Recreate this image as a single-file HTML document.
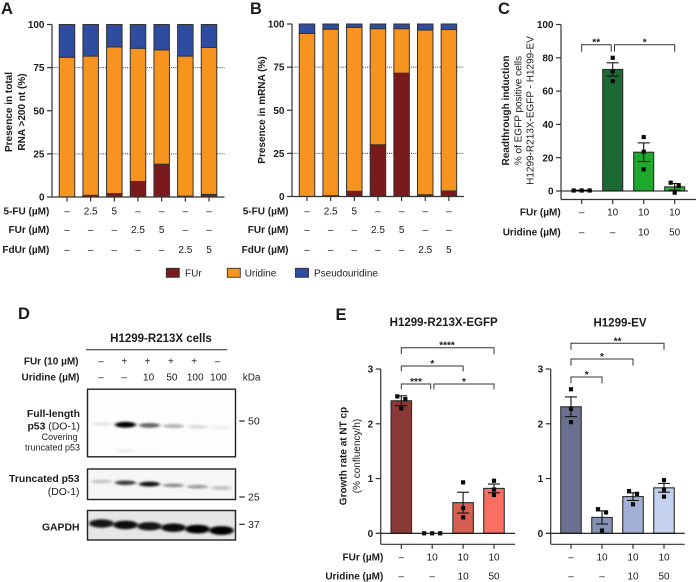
<!DOCTYPE html>
<html lang="en">
<head>
<meta charset="utf-8">
<title>Figure panels A-E</title>
<style>
html,body{margin:0;padding:0;background:#fff;}
svg{display:block;}
text{font-family:"Liberation Sans",sans-serif;fill:#1c1c1c;font-size:10px;}
.b{font-weight:bold;}
.letter{font-size:16.5px;font-weight:bold;}
</style>
</head>
<body>
<svg id="fig" xmlns="http://www.w3.org/2000/svg" width="696" height="582" viewBox="0 0 696 582">
  <defs>
    <filter id="blur1" x="-30%" y="-120%" width="160%" height="340%"><feGaussianBlur stdDeviation="1.5 1.1"/></filter>
  </defs>
  <rect width="696" height="582" fill="#fff"/>

  <text class="letter" x="1" y="14">A</text>
  <text class="letter" x="250" y="14">B</text>
  <text class="letter" x="498" y="14">C</text>
  <text class="letter" x="18" y="319">D</text>
  <text class="letter" x="335.5" y="320">E</text>

  <g id="panelA">
    <text class="b" transform="rotate(-90 11.8 112)" x="11.8" y="112" text-anchor="middle">Presence in total</text>
    <text class="b" transform="rotate(-90 25 112)" x="25" y="112" text-anchor="middle">RNA &gt;200 nt (%)</text>
  </g>
  <g id="panelB">
    <text class="b" transform="rotate(-90 265.2 110)" x="265.2" y="110" text-anchor="middle">Presence in mRNA (%)</text>
  </g>
  <g id="panelC">
    <text class="b" transform="rotate(-90 509.2 110.5)" x="509.2" y="110.5" text-anchor="middle">Readthrough induction</text>
    <text transform="rotate(-90 521.5 110.5)" x="521.5" y="110.5" text-anchor="middle">% of EGFP positive cells</text>
    <text transform="rotate(-90 533.5 110.5)" x="533.5" y="110.5" text-anchor="middle">H1299-R213X-EGFP - H1299-EV</text>
  </g>

  <g>
    <rect x="166.3" y="268.3" width="13" height="9" fill="#7a1a1c" stroke="#333" stroke-width="0.9"/>
    <text x="185" y="276.3">FUr</text>
    <rect x="227.3" y="268.3" width="13" height="9" fill="#f7941f" stroke="#333" stroke-width="0.9"/>
    <text x="244.7" y="276.3">Uridine</text>
    <rect x="295.5" y="268.3" width="13" height="9" fill="#2f4da0" stroke="#333" stroke-width="0.9"/>
    <text x="314" y="276.3">Pseudouridine</text>
  </g>

  <g id="panelD">
    <text class="b" x="161" y="342" text-anchor="middle" style="font-size:11.5px">H1299-R213X cells</text>
    <line x1="86" y1="349.7" x2="227.3" y2="349.7" stroke="#222" stroke-width="1"/>
    <text class="b" x="78.5" y="364.5" text-anchor="end">FUr (10 µM)</text>
    <text class="b" x="79.5" y="380.5" text-anchor="end">Uridine (µM)</text>
    <text x="242.7" y="380.5">kDa</text>
    <text x="80" y="417" text-anchor="end" class="b" style="font-size:10.4px">Full-length</text>
    <text x="80" y="429.5" text-anchor="end" style="font-size:10.4px"><tspan class="b" style="font-size:10.4px">p53</tspan> (DO-1)</text>
    <text x="77.7" y="440" text-anchor="end" style="font-size:9px">Covering</text>
    <text x="80" y="450.7" text-anchor="end" style="font-size:9px">truncated p53</text>
    <text x="79.5" y="482" text-anchor="end" class="b" style="font-size:10.4px">Truncated p53</text>
    <text x="79.5" y="495" text-anchor="end" style="font-size:10.4px">(DO-1)</text>
    <text x="79.5" y="530.5" text-anchor="end" class="b" style="font-size:10.4px">GAPDH</text>
    <line x1="239.3" y1="421" x2="244.7" y2="421" stroke="#222" stroke-width="1.2"/>
    <text x="248" y="424.5" style="font-size:10.5px">50</text>
    <line x1="239.3" y1="497" x2="244.7" y2="497" stroke="#222" stroke-width="1.2"/>
    <text x="248" y="500.5" style="font-size:10.5px">25</text>
    <line x1="239.3" y1="524.3" x2="244.7" y2="524.3" stroke="#222" stroke-width="1.2"/>
    <text x="248" y="528" style="font-size:10.5px">37</text>
  </g>

  <g id="panelE1">
    <text class="b" x="443.7" y="326" text-anchor="middle" style="font-size:11.5px">H1299-R213X-EGFP</text>
    <text class="b" transform="rotate(-90 346.5 456)" x="346.5" y="456" text-anchor="middle">Growth rate at NT cp</text>
    <text transform="rotate(-90 360 456)" x="360" y="456" text-anchor="middle">(% confluency/h)</text>
  </g>
  <g id="panelE2">
    <text class="b" x="620" y="326.5" text-anchor="middle" style="font-size:11.5px">H1299-EV</text>
  </g>
</svg>

<script>
// Panel A: presence in total RNA (%)
const aFUr = [0, 1, 2, 9, 19, 0.5, 1.5];
const aUridine = [81, 80.7, 85, 77.2, 66.3, 81.2, 85.2];
const aPseudo = [19, 18.3, 13, 13.8, 14.7, 18.3, 13.3];
// Panel B: presence in mRNA (%)
const bFUr = [0, 0.5, 3, 30, 71.5, 1, 3.2];
const bUridine = [94.5, 96.5, 95, 67.3, 25.8, 95.5, 93.6];
const bPseudo = [5.5, 3, 2, 2.7, 2.7, 3.5, 3.2];
const stackTicks = [0, 25, 50, 75, 100];
const stackGuides = [25, 75];
const rowFiveFU = ['–', '2.5', '5', '–', '–', '–', '–'];
const rowFUr = ['–', '–', '–', '2.5', '5', '–', '–'];
const rowFdUr = ['–', '–', '–', '–', '–', '2.5', '5'];
// Panel C: readthrough induction
const cMeans = [0.3, 73, 23.3, 2.5];
const cErrors = [0.2, 4, 5.6, 2];
const cPoints = [[0.3, 0.3, 0.3], [80, 72, 66], [32.4, 23.6, 13], [5, 3, -1]];
const cTicks = [0, 20, 40, 60, 80, 100];
const rowC1 = ['–', '10', '10', '10'];
const rowC2 = ['–', '–', '10', '50'];
// Panel E: growth rate
const e1Means = [2.42, 0, 0.56, 0.82];
const e1Errors = [0.09, 0, 0.19, 0.08];
const e1Points = [[2.5, 2.45, 2.28], [0, 0, 0], [0.93, 0.46, 0.29], [0.96, 0.8, 0.7]];
const e2Means = [2.31, 0.29, 0.67, 0.83];
const e2Errors = [0.18, 0.12, 0.07, 0.08];
const e2Points = [[2.63, 2.27, 2.03], [0.44, 0.38, 0.05], [0.77, 0.72, 0.53], [0.97, 0.8, 0.67]];
const eTicks = [0, 1, 2, 3];
// Panel D: band intensity per lane (0-1)
const blotFurRow = ['–', '+', '+', '+', '+', '–'];
const blotUridineRow = ['–', '–', '10', '50', '100', '100'];
const bandsFull = [0.1, 1, 0.6, 0.3, 0.14, 0.06];
const bandsFullLower = [0, 0.08, 0.02, 0, 0, 0];
const bandsTruncated = [0.22, 0.75, 0.92, 0.42, 0.38, 0.24];
const bandsGapdh = [0.9, 0.95, 0.9, 0.95, 1, 1];

const NS = 'http://www.w3.org/2000/svg';
function mk(tag, parent, props) {
  const e = document.createElementNS(NS, tag);
  for (const k in props) e.setAttribute(k, props[k]);
  parent.appendChild(e);
  return e;
}
function mkText(parent, str, props, cls) {
  const e = mk('text', parent, props);
  if (cls) e.setAttribute('class', cls);
  e.textContent = str;
  return e;
}
function scale(cfg) {
  return {
    x: function (i) { return cfg.x0 + i * cfg.step; },
    y: function (v) { return cfg.yZero - (v / cfg.max) * (cfg.yZero - cfg.yTop); }
  };
}
function drawYAxis(g, sc, cfg, ticks) {
  let el = mk('line', g, {x1: cfg.axisX, y1: sc.y(ticks[ticks.length - 1]), x2: cfg.axisX, y2: cfg.axisBottom, stroke: '#333', 'stroke-width': 1.2});
  
  
  ticks.forEach(function (t) {
    const tk = mk('line', g, {x1: cfg.axisX - 5, y1: sc.y(t), x2: cfg.axisX, y2: sc.y(t), stroke: '#333', 'stroke-width': 1.2});
    
    
    const lb = mkText(g, String(t), {x: cfg.axisX - 7.5, y: sc.y(t) + 3.6, 'text-anchor': 'end'}, 'b');
    
    
  });
}
function drawXAxis(g, sc, cfg, n) {
  const el = mk('line', g, {x1: cfg.axisX, y1: cfg.axisBottom, x2: cfg.axisEnd, y2: cfg.axisBottom, stroke: '#333', 'stroke-width': 1.2});
  
  
  for (let i = 0; i < n; i++) {
    const tk = mk('line', g, {x1: sc.x(i), y1: cfg.axisBottom, x2: sc.x(i), y2: cfg.axisBottom + 4.5, stroke: '#333', 'stroke-width': 1.2});
    
    
  }
}
function drawRow(g, sc, label, vals, labelX, baseY) {
  const lb = mkText(g, label, {x: labelX, y: baseY, 'text-anchor': 'end'}, 'b');
  
  
  vals.forEach(function (v, i) {
    const c = mkText(g, v, {x: sc.x(i), y: baseY, 'text-anchor': 'middle', fill: '#333'});
    
    
  });
}
function drawStacked(id, cfg, s1, s2, s3, labelX) {
  const g = document.getElementById(id);
  const sc = scale(cfg);
  stackGuides.forEach(function (v) {
    const gl = mk('line', g, {x1: cfg.axisX - 2, y1: sc.y(v), x2: cfg.axisEnd, y2: sc.y(v), stroke: '#333', 'stroke-width': 0.9, 'stroke-dasharray': '1 1.2'});
    
    
  });
  const colors = ['#7a1a1c', '#f7941f', '#2f4da0'];
  s1.forEach(function (_, i) {
    let cum = 0;
    [s1[i], s2[i], s3[i]].forEach(function (v, k) {
      const top = sc.y(cum + v), bot = sc.y(cum);
      const r = mk('rect', g, {x: sc.x(i) - cfg.barW / 2, y: top, width: cfg.barW, height: bot - top, fill: colors[k], stroke: '#333', 'stroke-width': 1});
      
      
      cum += v;
    });
  });
  drawYAxis(g, sc, cfg, stackTicks);
  drawXAxis(g, sc, cfg, s1.length);
  drawRow(g, sc, '5-FU (µM)', rowFiveFU, labelX, 214.4);
  drawRow(g, sc, 'FUr (µM)', rowFUr, labelX, 233);
  drawRow(g, sc, 'FdUr (µM)', rowFdUr, labelX, 253);
}
function swarmOffsets(values, pxPerUnit) {
  const order = values.map(function (v, i) { return i; }).sort(function (a, b) { return values[b] - values[a]; });
  const out = [0, 0, 0];
  let start = 0;
  for (let k = 1; k <= order.length; k++) {
    if (k === order.length || (values[order[k - 1]] - values[order[k]]) * pxPerUnit > 5) {
      const n = k - start;
      for (let j = start; j < k; j++) out[order[j]] = (j - start - (n - 1) / 2) * 8;
      start = k;
    }
  }
  return out;
}
function drawBars(id, cfg, means, errors, points, colors, ticks) {
  const g = document.getElementById(id);
  const sc = scale(cfg);
  const pxPerUnit = (cfg.yZero - cfg.yTop) / cfg.max;
  means.forEach(function (m, i) {
    const r = mk('rect', g, {x: sc.x(i) - cfg.barW / 2, y: sc.y(m), width: cfg.barW, height: cfg.yZero - sc.y(m), fill: colors[i], stroke: '#2b2b2b', 'stroke-width': 1.1});
    
    
  });
  const zero = mk('line', g, {x1: cfg.axisX - 4, y1: cfg.yZero, x2: cfg.zeroEnd, y2: cfg.yZero, stroke: '#111', 'stroke-width': 1.1});
  
  
  means.forEach(function (m, i) {
    if (errors[i] > 0.001 * cfg.max) {
      const cx = sc.x(i), hi = sc.y(m + errors[i]), lo = sc.y(m - errors[i]);
      [[cx, hi, cx, lo], [cx - 6, hi, cx + 6, hi], [cx - 6, lo, cx + 6, lo]].forEach(function (p) {
        const l = mk('line', g, {x1: p[0], y1: p[1], x2: p[2], y2: p[3], stroke: '#111', 'stroke-width': 1.1});
        
        
      });
    }
    const offs = swarmOffsets(points[i], pxPerUnit);
    points[i].forEach(function (v, k) {
      const pt = mk('rect', g, {x: sc.x(i) + offs[k] - 2.1, y: sc.y(v) - 2.1, width: 4.2, height: 4.2, fill: '#0a0a0a'});
      
      
    });
  });
  drawYAxis(g, sc, cfg, ticks);
  drawXAxis(g, sc, cfg, means.length);
  return {g: g, sc: sc};
}
function bracket(g, x1, x2, y, drop1, drop2, label, labelX) {
  const p = mk('path', g, {d: 'M' + x1 + ' ' + (y + drop1) + 'V' + y + 'H' + x2 + 'V' + (y + drop2), fill: 'none', stroke: '#333', 'stroke-width': 1});
  
  
  const t = mkText(g, label, {x: labelX, y: y + 1, 'text-anchor': 'middle'}, 'b');
  
  
}

const cfgA = {x0: 67, step: 23.67, barW: 15.5, yTop: 24.5, yZero: 197, max: 100, axisX: 52, axisBottom: 197, axisEnd: 224.5};
const cfgB = {x0: 307, step: 23.65, barW: 15.5, yTop: 24, yZero: 196.5, max: 100, axisX: 292, axisBottom: 196.5, axisEnd: 464};
drawStacked('panelA', cfgA, aFUr, aUridine, aPseudo, 49.3);
drawStacked('panelB', cfgB, bFUr, bUridine, bPseudo, 288.5);

const cfgC = {x0: 581.7, step: 31, barW: 20, yTop: 24.5, yZero: 191, max: 100, axisX: 561, axisBottom: 199.5, axisEnd: 696, zeroEnd: 688};
const pc = drawBars('panelC', cfgC, cMeans, cErrors, cPoints, ['#1b6a34', '#1b6a34', '#1fa82e', '#2db334'], cTicks);
drawRow(pc.g, pc.sc, 'FUr (µM)', rowC1, 560.7, 215.3);
drawRow(pc.g, pc.sc, 'Uridine (µM)', rowC2, 560.7, 235.3);
bracket(pc.g, pc.sc.x(0), pc.sc.x(1) - 1.5, 44.7, 7, 7, '**', (pc.sc.x(0) + pc.sc.x(1)) / 2 - 1);
bracket(pc.g, pc.sc.x(1) + 1.8, pc.sc.x(3), 44.7, 7, 7, '*', (pc.sc.x(1) + pc.sc.x(3)) / 2 + 1);

const cfgE1 = {x0: 401.3, step: 30.9, barW: 20.5, yTop: 369, yZero: 533.3, max: 3, axisX: 380.7, axisBottom: 544.3, axisEnd: 515, zeroEnd: 515};
const pe1 = drawBars('panelE1', cfgE1, e1Means, e1Errors, e1Points, ['#8a3a36', '#8a3a36', '#d65f50', '#fa6f63'], eTicks);
drawRow(pe1.g, pe1.sc, 'FUr (µM)', rowC1, 383.3, 560.6);
drawRow(pe1.g, pe1.sc, 'Uridine (µM)', rowC2, 383.3, 579.6);
bracket(pe1.g, pe1.sc.x(0), pe1.sc.x(3), 347.7, 6.6, 6.6, '****', 447);
bracket(pe1.g, pe1.sc.x(0), pe1.sc.x(2), 366, 5.4, 5.4, '*', 432.3);
bracket(pe1.g, pe1.sc.x(0), pe1.sc.x(1) - 1.5, 384, 5.4, 5.4, '***', 416);
bracket(pe1.g, pe1.sc.x(1) + 1.7, pe1.sc.x(3), 384, 5.4, 5.4, '*', 464);

const cfgE2 = {x0: 571, step: 31, barW: 20.5, yTop: 369, yZero: 533.3, max: 3, axisX: 550.7, axisBottom: 544.3, axisEnd: 684.7, zeroEnd: 684.7};
const pe2 = drawBars('panelE2', cfgE2, e2Means, e2Errors, e2Points, ['#6b7090', '#8591b3', '#a2b0d6', '#c5d2ef'], eTicks);
rowC1.forEach(function (v, i) {
  const c = mkText(pe2.g, v, {x: pe2.sc.x(i), y: 560.6, 'text-anchor': 'middle', fill: '#333'});
  
  
});
rowC2.forEach(function (v, i) {
  const c = mkText(pe2.g, v, {x: pe2.sc.x(i), y: 579.6, 'text-anchor': 'middle', fill: '#333'});
  
  
});
bracket(pe2.g, pe2.sc.x(0), pe2.sc.x(3), 343.3, 6.6, 6.6, '**', 617.5);
bracket(pe2.g, pe2.sc.x(0), pe2.sc.x(2), 359, 6.6, 6.6, '*', 602);
bracket(pe2.g, pe2.sc.x(0), pe2.sc.x(1), 377, 6.4, 6.4, '*', 586.7);

// Western blot
const gD = document.getElementById('panelD');
const laneX = function (i) { return 101.5 + i * 24; };
const labelLane = function (i) { return 101 + i * 23.3; };
blotFurRow.forEach(function (v, i) {
  const t = mkText(gD, v, {x: labelLane(i), y: 364.5, 'text-anchor': 'middle', fill: '#333'});
  
  
});
blotUridineRow.forEach(function (v, i) {
  const t = mkText(gD, v, {x: labelLane(i) + (i > 1 ? 1 : 0), y: 380.5, 'text-anchor': 'middle', fill: '#333'});
  
  
});
function drawBlotBox(top, bottom, bg) {
  const box = mk('rect', gD, {x: 87.5, y: top, width: 148, height: bottom - top, fill: bg});
  
  
}
function drawBands(bands, bandY, bandH, slope, bandW) {
  bands.forEach(function (v, i) {
    const band = mk('ellipse', gD, {cx: laneX(i), cy: bandY + i * slope, rx: bandW, ry: bandH * (0.55 + 0.45 * v), fill: '#000', 'fill-opacity': v, filter: 'url(#blur1)'});
    
    
  });
}
function drawBlotFrame(top, bottom) {
  const frame = mk('rect', gD, {x: 87.5, y: top, width: 148, height: bottom - top, fill: 'none', stroke: '#222', 'stroke-width': 1.4});
  
  
}
drawBlotBox(389.2, 456.8, '#fdfdfd');
drawBands(bandsFull, 424, 3, 0.7, 10.5);
drawBands(bandsFullLower, 451, 2.5, 0, 9);
drawBlotFrame(389.2, 456.8);
drawBlotBox(469, 499.5, '#f6f6f6');
drawBands(bandsTruncated, 481.5, 2.6, 1.3, 10.5);
drawBlotFrame(469, 499.5);
drawBlotBox(510.5, 540, '#e6e6e6');
drawBands(bandsGapdh, 523.5, 4.4, 1.4, 12.5);
drawBlotFrame(510.5, 540);
</script>
</body>
</html>
